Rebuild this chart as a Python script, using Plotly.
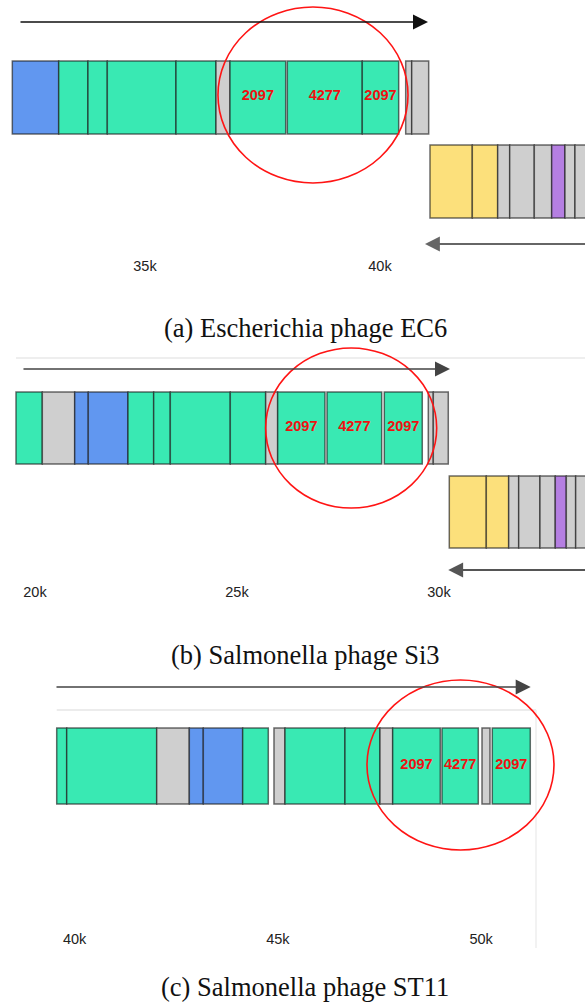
import plotly.graph_objects as go

W, H = 585, 1002

# ---------------- data (genomic coordinates, bp) ----------------
# (a) Escherichia phage EC6
a_fwd_start = [32177, 33164, 33787, 34198, 35660, 36511, 36809, 38028, 39623, 40547, 40675]
a_fwd_end   = [33164, 33787, 34198, 35660, 36511, 36809, 37994, 39623, 40398, 40675, 41036]
a_fwd_type  = ["blue", "green", "green", "green", "green", "gray", "green", "green", "green", "gray", "gray"]
a_fwd_label = ["", "", "", "", "", "", "2097", "4277", "2097", "", ""]
a_rev_start = [41064, 41964, 42504, 42760, 43283, 43653, 43936, 44149]
a_rev_end   = [41964, 42504, 42760, 43283, 43653, 43936, 44149, 44900]
a_rev_type  = ["yellow", "yellow", "gray", "gray", "gray", "purple", "gray", "gray"]
a_fwd_arrow = [32319, 41021]   # tail, head
a_rev_arrow = [44900, 40958]   # tail, head
a_highlight = [36553, 40596]
a_ticks = [35000, 40000]
a_tick_labels = ["35k", "40k"]
a_range = [31915, 44362]

# (b) Salmonella phage Si3
b_fwd_start = [19530, 20181, 20983, 21319, 22302, 22938, 23349, 24834, 25710, 26007, 27228, 28646, 29735, 29859]
b_fwd_end   = [20181, 20983, 21319, 22302, 22938, 23349, 24834, 25710, 26007, 27178, 28582, 29586, 29859, 30230]
b_fwd_type  = ["green", "gray", "blue", "blue", "green", "green", "green", "green", "gray", "green", "green", "green", "gray", "gray"]
b_fwd_label = ["", "", "", "", "", "", "", "", "", "2097", "4277", "2097", "", ""]
b_rev_start = [30255, 31171, 31725, 31973, 32500, 32878, 33151, 33383]
b_rev_end   = [31171, 31725, 31973, 32500, 32878, 33151, 33383, 34100]
b_rev_type  = ["yellow", "yellow", "gray", "gray", "gray", "purple", "gray", "gray"]
b_fwd_arrow = [19678, 30272]
b_rev_arrow = [34100, 30230]
b_highlight = [25710, 29943]
b_ticks = [20000, 25000, 30000]
b_tick_labels = ["20k", "25k", "30k"]
b_range = [19134, 33614]

# (c) Salmonella phage ST11
c_fwd_start = [39560, 39806, 42020, 42822, 43166, 44135, 44905, 45176, 46652, 47513, 47825, 49038, 50022, 50275]
c_fwd_end   = [39806, 42020, 42822, 43166, 44135, 44765, 45176, 46652, 47513, 47825, 48996, 49931, 50219, 51210]
c_fwd_type  = ["green", "green", "gray", "blue", "blue", "green", "gray", "green", "green", "gray", "green", "green", "gray", "green"]
c_fwd_label = ["", "", "", "", "", "", "", "", "", "", "2097", "4277", "", "2097"]
c_fwd_arrow = [39518, 51220]
c_highlight = [47193, 51793]
c_track_box = [39560, 51350]
c_ticks = [40000, 45000, 50000]
c_tick_labels = ["40k", "45k", "50k"]
c_range = [38165, 52556]

captions = ["(a) Escherichia phage EC6", "(b) Salmonella phage Si3", "(c) Salmonella phage ST11"]

# ---------------- styles ----------------
COL = {"green": "#39E9B3", "blue": "#6197F0", "gray": "#CFCFCF",
       "yellow": "#FCE07B", "purple": "#B57FE2"}
EDGE = "rgba(30,30,30,0.65)"
LABEL_FONT = dict(family="Liberation Sans", size=14.5, color="#F01010")
TICK_FONT = dict(family="Liberation Sans", size=14.5, color="#222222")
CAP_FONT = dict(family="Liberation Serif", size=26.5, color="#111111")

panels = [
    dict(ax="x", fs=a_fwd_start, fe=a_fwd_end, ft=a_fwd_type, fl=a_fwd_label,
         rs=a_rev_start, re=a_rev_end, rt=a_rev_type,
         farrow=a_fwd_arrow, rarrow=a_rev_arrow, hl=a_highlight,
         ticks=a_ticks, tl=a_tick_labels,
         fy=97.5, fh=73, ry=181.5, rh=73, fay=22, ray=244, ty=267, cy=328, hly=(7, 183),
         fcol="#111111", rcol="#666666"),
    dict(ax="x2", fs=b_fwd_start, fe=b_fwd_end, ft=b_fwd_type, fl=b_fwd_label,
         rs=b_rev_start, re=b_rev_end, rt=b_rev_type,
         farrow=b_fwd_arrow, rarrow=b_rev_arrow, hl=b_highlight,
         ticks=b_ticks, tl=b_tick_labels,
         fy=428, fh=72, ry=512, rh=72, fay=369, ray=570, ty=593, cy=655, hly=(348, 508),
         fcol="#444444", rcol="#555555"),
    dict(ax="x3", fs=c_fwd_start, fe=c_fwd_end, ft=c_fwd_type, fl=c_fwd_label,
         rs=None, re=None, rt=None,
         farrow=c_fwd_arrow, rarrow=None, hl=c_highlight,
         ticks=c_ticks, tl=c_tick_labels,
         fy=766, fh=76, ry=None, rh=None, fay=687, ray=None, ty=940, cy=987, hly=(680, 850),
         fcol="#444444", rcol="#555555"),
]

fig = go.Figure()
annotations = []
shapes = []


def add_track(ax, starts, ends, types, yc, h):
    fig.add_trace(go.Bar(
        orientation="h",
        base=starts,
        x=[e - s for s, e in zip(starts, ends)],
        y=[yc] * len(starts),
        width=h,
        marker=dict(color=[COL[t] for t in types], line=dict(color=EDGE, width=1.5)),
        xaxis=ax, yaxis="y", hoverinfo="skip", showlegend=False,
    ))


for i, p in enumerate(panels):
    ax = p["ax"]
    add_track(ax, p["fs"], p["fe"], p["ft"], p["fy"], p["fh"])
    if p["rs"] is not None:
        add_track(ax, p["rs"], p["re"], p["rt"], p["ry"], p["rh"])

    # labels inside genes
    lx = [(s + e) / 2 for s, e, l in zip(p["fs"], p["fe"], p["fl"]) if l]
    lt = [l for l in p["fl"] if l]
    fig.add_trace(go.Scatter(
        x=lx, y=[p["fy"] - 1] * len(lx), mode="text", text=["<b>%s</b>" % t for t in lt],
        textposition="middle center", textfont=LABEL_FONT,
        xaxis=ax, yaxis="y", hoverinfo="skip", showlegend=False))

    # axis tick labels
    fig.add_trace(go.Scatter(
        x=p["ticks"], y=[p["ty"]] * len(p["ticks"]), mode="text", text=p["tl"],
        textposition="middle center", textfont=TICK_FONT,
        xaxis=ax, yaxis="y", hoverinfo="skip", showlegend=False))

    # strand arrows
    annotations.append(dict(
        x=p["farrow"][1], y=p["fay"], ax=p["farrow"][0], ay=p["fay"],
        xref=ax, yref="y", axref=ax, ayref="y", text="", showarrow=True,
        arrowhead=2, arrowsize=2.0, arrowwidth=1.5, arrowcolor=p["fcol"], standoff=0))
    if p["rarrow"] is not None:
        annotations.append(dict(
            x=p["rarrow"][1], y=p["ray"], ax=p["rarrow"][0], ay=p["ray"],
            xref=ax, yref="y", axref=ax, ayref="y", text="", showarrow=True,
            arrowhead=2, arrowsize=1.65, arrowwidth=1.8, arrowcolor=p["rcol"], standoff=0))

    # highlight circle
    shapes.append(dict(type="circle", xref=ax, yref="y",
                       x0=p["hl"][0], x1=p["hl"][1], y0=p["hly"][0], y1=p["hly"][1],
                       line=dict(color="#FF1414", width=1.6), fillcolor="rgba(0,0,0,0)"))

    # caption (centred at ~305 px of the page)
    annotations.append(dict(x=305 / W, y=p["cy"], xref="paper", yref="y", text=captions[i],
                            showarrow=False, font=CAP_FONT, xanchor="center", yanchor="middle"))

# faint track frames
shapes.append(dict(type="line", xref="x2", yref="y", x0=b_fwd_start[0], x1=b_range[1],
                   y0=358, y1=358, line=dict(color="#E8E8E8", width=1.5), layer="below"))
shapes.append(dict(type="line", xref="x3", yref="y", x0=c_track_box[0], x1=c_track_box[1],
                   y0=710, y1=710, line=dict(color="#E6E6E6", width=1.5), layer="below"))
shapes.append(dict(type="line", xref="x3", yref="y", x0=c_track_box[1], x1=c_track_box[1],
                   y0=710, y1=948, line=dict(color="#EEEEEE", width=1.5), layer="below"))

hidden = dict(visible=False, showgrid=False, zeroline=False, fixedrange=True)
fig.update_layout(
    width=W, height=H,
    margin=dict(l=0, r=0, t=0, b=0),
    paper_bgcolor="white", plot_bgcolor="white",
    barmode="overlay",
    showlegend=False,
    xaxis=dict(range=a_range, domain=[0, 1], **hidden),
    xaxis2=dict(range=b_range, domain=[0, 1], overlaying="x", **hidden),
    xaxis3=dict(range=c_range, domain=[0, 1], overlaying="x", **hidden),
    yaxis=dict(range=[H, 0], domain=[0, 1], **hidden),
    annotations=annotations,
    shapes=shapes,
)

fig.write_html(
    "out.html",
    config={"displayModeBar": False},
    post_script="document.body.style.margin='0';document.body.style.overflow='hidden';"
                "document.documentElement.style.overflow='hidden';",
)
